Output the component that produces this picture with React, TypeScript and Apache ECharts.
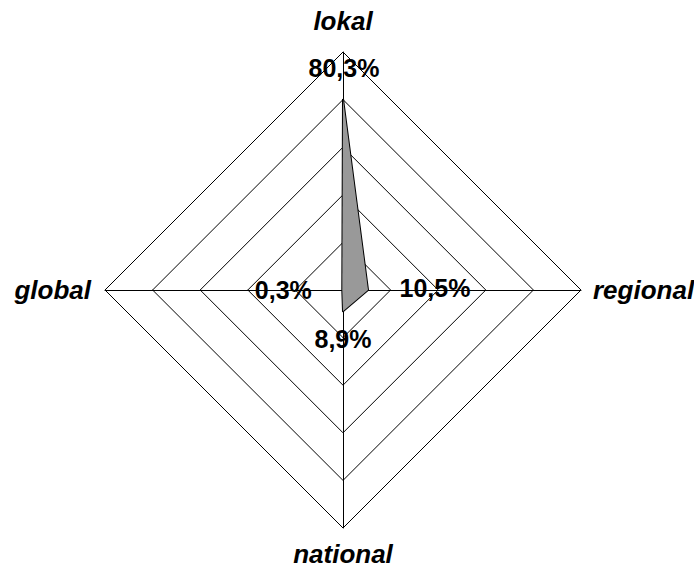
import React, { useEffect, useRef } from "react";
import * as echarts from "echarts";

const indicators = ["lokal", "global", "national", "regional"];
const values = [80.3, 0.3, 8.9, 10.5];
const axisMax = 100;

const fmt = (v: number) => v.toFixed(1).replace(".", ",") + "%";

export default function App() {
  const ref = useRef<HTMLDivElement>(null);
  useEffect(() => {
    if (!ref.current) return;
    const chart = echarts.init(ref.current, null, { renderer: "svg" });
    const family = "'Liberation Sans', Arial, sans-serif";
    const font = { fontFamily: family, fontWeight: "bold" as const, fontSize: 25, color: "#000" };
    const nameFont = { fontFamily: family, fontWeight: "bold" as const, fontStyle: "italic" as const, fontSize: 26, color: "#000" };
    chart.setOption({
      animation: false,
      backgroundColor: "#fff",
      radar: {
        center: [343, 290],
        radius: 238,
        shape: "polygon",
        splitNumber: 5,
        startAngle: 90,
        indicator: indicators.map((n) => ({ name: n, max: axisMax, min: 0 })),
        axisName: {
          ...nameFont,
          formatter: (name: string) => `{n${indicators.indexOf(name)}|${name}}`,
          rich: {
            n0: { ...nameFont, padding: [0, 0, 8, 0] },
            n1: { ...nameFont, padding: [0, 4, 0, 0] },
            n2: { ...nameFont, padding: [3, 0, 0, 0] },
            n3: { ...nameFont, padding: [0, 0, 0, 2] },
          },
        },
        nameGap: 10,
        axisLine: { lineStyle: { color: "#000", width: 1 } },
        splitLine: { lineStyle: { color: "#000", width: 1 } },
        splitArea: { show: false },
        axisTick: { show: false },
        axisLabel: { show: false },
      },
      series: [
        {
          type: "radar",
          symbol: "circle",
          symbolSize: 1,
          itemStyle: { color: "rgba(0,0,0,0)", borderWidth: 0 },
          lineStyle: { color: "#000", width: 2 },
          areaStyle: { color: "#999999", opacity: 1 },
          label: {
            show: true,
            position: "inside",
            formatter: (p: any) => {
              let i = p.dimensionIndex;
              if (i == null) i = values.indexOf(p.value);
              return `{d${i}|${fmt(values[i])}}`;
            },
            rich: {
              d0: { ...font, padding: [0, 0, 62, 2] },
              d1: { ...font, padding: [0, 118, 0, 0] },
              d2: { ...font, padding: [56, 0, 0, 0] },
              d3: { ...font, padding: [0, 0, 4, 134] },
            },
          },
          data: [{ value: values, name: "Anteil" }],
        },
      ],
    });
    return () => chart.dispose();
  }, []);
  return <div ref={ref} style={{ position: "absolute", left: 0, top: 0, width: 694, height: 568 }} />;
}
